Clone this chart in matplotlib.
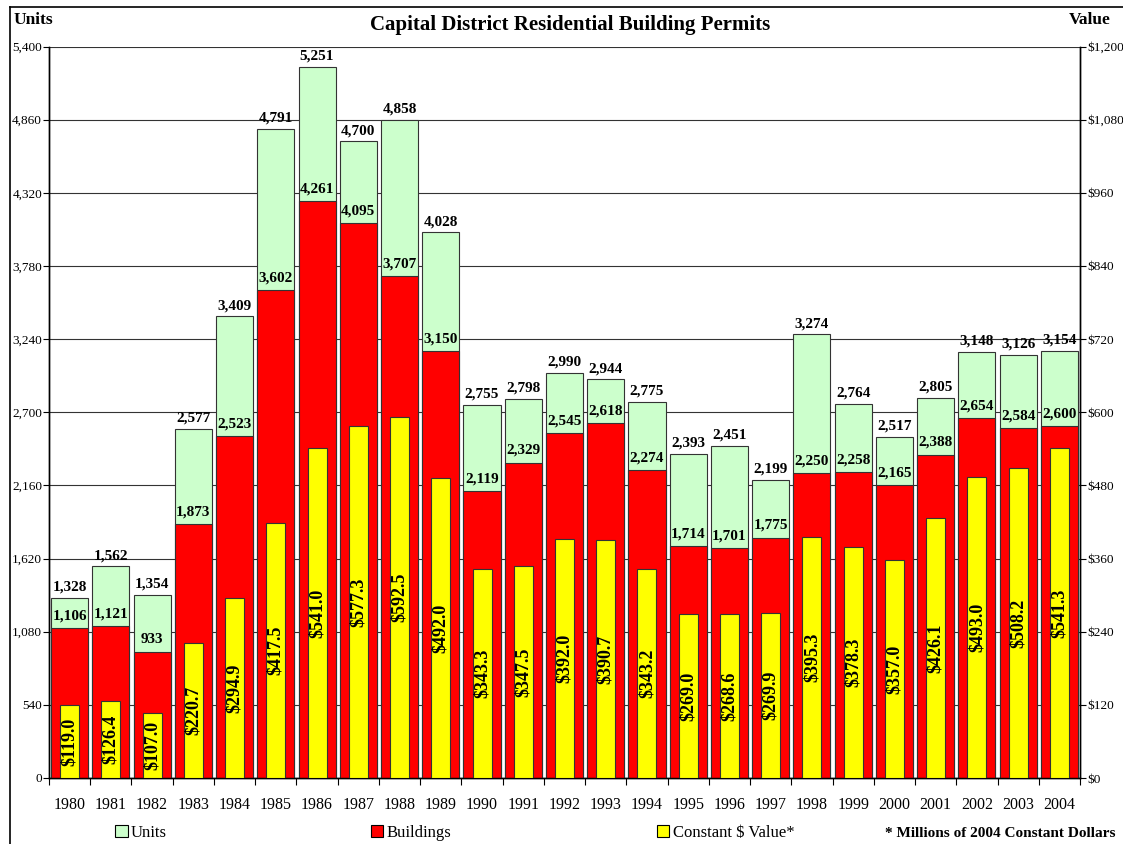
import matplotlib
matplotlib.use("Agg")
import matplotlib.pyplot as plt
import numpy as np
from matplotlib.patches import Patch
from matplotlib.lines import Line2D
from matplotlib.ticker import FuncFormatter

plt.rcParams['font.family'] = ['Liberation Serif', 'DejaVu Serif']

years = [str(y) for y in range(1980, 2005)]
units = [1328, 1562, 1354, 2577, 3409, 4791, 5251, 4700, 4858, 4028, 2755, 2798,
         2990, 2944, 2775, 2393, 2451, 2199, 3274, 2764, 2517, 2805, 3148, 3126, 3154]
buildings = [1106, 1121, 933, 1873, 2523, 3602, 4261, 4095, 3707, 3150, 2119, 2329,
             2545, 2618, 2274, 1714, 1701, 1775, 2250, 2258, 2165, 2388, 2654, 2584, 2600]
value = [119.0, 126.4, 107.0, 220.7, 294.9, 417.5, 541.0, 577.3, 592.5, 492.0, 343.3,
         347.5, 392.0, 390.7, 343.2, 269.0, 268.6, 269.9, 395.3, 378.3, 357.0, 426.1,
         493.0, 508.2, 541.3]

GREEN = '#CCFFCC'
RED = '#FF0000'
YELLOW = '#FFFF00'

fig = plt.figure(figsize=(11.23, 8.44), dpi=100)
ax = fig.add_axes([49 / 1123, 1 - 778 / 844, (1080 - 49) / 1123, (778 - 46.5) / 844])
ax2 = ax.twinx()

x = np.arange(len(years))
wide = 0.9
narrow = 0.46

ax.set_axisbelow(True)
ax.bar(x, units, width=wide, color=GREEN, edgecolor='#333333', linewidth=0.8, zorder=2)
ax.bar(x, buildings, width=wide, color=RED, edgecolor='#333333', linewidth=0.8, zorder=3)
ax2.bar(x, value, width=narrow, color=YELLOW, edgecolor='#333333', linewidth=0.8, zorder=3)

ax.set_ylim(0, 5400)
ax2.set_ylim(0, 1200)
ax.set_xlim(-0.5, len(years) - 0.5)
ax.set_yticks(np.arange(0, 5401, 540))
ax2.set_yticks(np.arange(0, 1201, 120))
ax.yaxis.set_major_formatter(FuncFormatter(lambda v, p: f"{int(v):,}"))
ax2.yaxis.set_major_formatter(FuncFormatter(lambda v, p: f"${int(v):,}"))
ax.tick_params(axis='y', labelsize=9.5, length=4, width=0.8, pad=1)
ax2.tick_params(axis='y', labelsize=9.5, length=4, width=0.8, pad=1)

ax.set_xticks(x)
ax.set_xticklabels(years, fontsize=11.5)
ax.set_xticks(np.arange(-0.5, len(years), 1), minor=True)
ax.tick_params(axis='x', which='major', length=0, pad=14)
ax.tick_params(axis='x', which='minor', length=5, width=0.8)

ax.grid(axis='y', color='#333333', linewidth=0.8, zorder=0)
ax.spines['top'].set_visible(False)
ax2.spines['top'].set_visible(False)
for s in ['left', 'right', 'bottom']:
    ax2.spines[s].set_linewidth(1.0)
    ax.spines[s].set_linewidth(1.0)

for i in range(len(years)):
    ax.annotate(f"{units[i]:,}", (x[i], units[i]), xytext=(0, 3), textcoords='offset points',
                ha='center', va='bottom', fontsize=11, fontweight='bold', zorder=5)
    ax.annotate(f"{buildings[i]:,}", (x[i], buildings[i]), xytext=(0, 4), textcoords='offset points',
                ha='center', va='bottom', fontsize=11, fontweight='bold', zorder=5)
    ax2.text(x[i], value[i] / 2, f"${value[i]:.1f}", rotation=90, ha='center', va='center',
             fontsize=13, fontweight='bold', zorder=5)

fig.text(0.012, 0.976, "Units", fontsize=12.5, fontweight='bold', ha='left', va='center')
fig.text(0.989, 0.976, "Value", fontsize=12.5, fontweight='bold', ha='right', va='center')
fig.text(0.508, 0.970, "Capital District Residential Building Permits", fontsize=15,
         fontweight='bold', ha='center', va='center')

leg_kw = dict(frameon=False, fontsize=12, handlelength=0.75, handleheight=0.75,
              handletextpad=0.2, borderpad=0, borderaxespad=0, loc='center left')
fig.legend(handles=[Patch(facecolor=GREEN, edgecolor='black', linewidth=0.8)], labels=['Units'],
           bbox_to_anchor=(0.1025, 0.013), **leg_kw)
fig.legend(handles=[Patch(facecolor=RED, edgecolor='black', linewidth=0.8)], labels=['Buildings'],
           bbox_to_anchor=(0.330, 0.013), **leg_kw)
fig.legend(handles=[Patch(facecolor=YELLOW, edgecolor='black', linewidth=0.8)],
           labels=['Constant $ Value*'], bbox_to_anchor=(0.585, 0.013), **leg_kw)
fig.text(0.993, 0.013, "* Millions of 2004 Constant Dollars", fontsize=11, fontweight='bold',
         ha='right', va='center')

fig.add_artist(Line2D([0.009, 0.009], [0.0, 0.992], color='black', linewidth=1.2,
                      transform=fig.transFigure))
fig.add_artist(Line2D([0.009, 1.0], [0.992, 0.992], color='black', linewidth=1.2,
                      transform=fig.transFigure))

fig.savefig("out.png", dpi=100)
